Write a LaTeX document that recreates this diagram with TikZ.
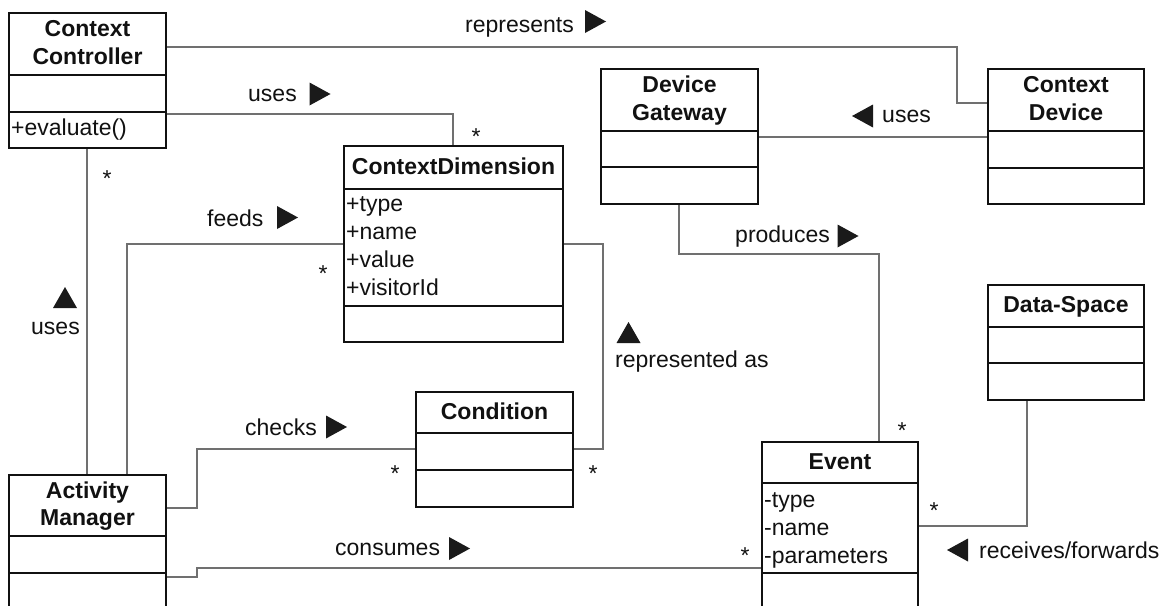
\documentclass[tikz,border=0pt]{standalone}
\usepackage{fontspec}
\setmainfont{Liberation Sans}
\usetikzlibrary{backgrounds}
\definecolor{ink}{RGB}{17,17,17}
\definecolor{wire}{RGB}{112,112,112}
\definecolor{tricol}{RGB}{26,26,26}

% class box: outer frame from (left,top) to (right,bottom)
\newcommand\umlbox[5]{%
  \node[cls, minimum width={#4-#2}, minimum height={#5-#3}] (#1) at ({(#2+#4)/2},{(#3+#5)/2}) {};}
% horizontal compartment separator inside a class box
\newcommand\umlsep[2]{\draw[sepline] (#1.west |- 0,#2) -- (#1.east |- 0,#2);}

\begin{document}
\begin{tikzpicture}[x=1pt, y=-1pt,
  every node/.style={font=\fontsize{23}{28}\selectfont, text=ink},
  cls/.style={draw=ink, line width=1.8pt, inner sep=0pt, outer sep=0pt},
  sepline/.style={draw=ink, line width=1.8pt},
  assoc/.style={draw=wire, line width=1.1pt},
  ttl/.style={font=\fontsize{23}{28}\selectfont\bfseries, anchor=base, inner sep=0pt},
  attr/.style={anchor=base west, inner sep=0pt},
  lbl/.style={anchor=base west, inner sep=0pt},
  mult/.style={anchor=base, inner sep=0pt},
  rtri/.pic={\fill[tricol] (-10.5,-11.5) -- (10.5,0) -- (-10.5,11.5) -- cycle;},
  ltri/.pic={\fill[tricol] (10.5,-11.5) -- (-10.5,0) -- (10.5,11.5) -- cycle;},
  utri/.pic={\fill[tricol] (-12,10.5) -- (0,-10.5) -- (12,10.5) -- cycle;},
]
\clip (0,0) rectangle (1166,605);

% ---------- class boxes ----------
\umlbox{cc}{9}{13}{166}{148}
\umlsep{cc}{75}\umlsep{cc}{112}
\node[ttl] (cc-t1) at (87.5,36.7) {Context};
\node[ttl] (cc-t2) at (87.5,64) {Controller};
\node[attr] (cc-op) at (11,135) {+evaluate()};

\umlbox{dim}{344}{146}{563}{341.7}
\umlsep{dim}{189}\umlsep{dim}{305.7}
\node[ttl] (dim-t) at (453.5,174.3) {ContextDimension};
\foreach \a [count=\i] in {+type,+name,+value,+visitorId}
  \node[attr] (dim-a\i) at (346,{183.7+28*\i}) {\a};

\umlbox{dg}{601}{69}{758}{204}
\umlsep{dg}{131}\umlsep{dg}{167}
\node[ttl] (dg-t1) at (679.5,92.7) {Device};
\node[ttl] (dg-t2) at (679.5,120) {Gateway};

\umlbox{dev}{988}{69}{1144}{204}
\umlsep{dev}{131}\umlsep{dev}{168}
\node[ttl] (dev-t1) at (1066,92.7) {Context};
\node[ttl] (dev-t2) at (1066,120) {Device};

\umlbox{ds}{988}{285}{1144}{400}
\umlsep{ds}{327}\umlsep{ds}{363}
\node[ttl] (ds-t) at (1066,312.3) {Data-Space};

\umlbox{cond}{416}{392}{573}{507}
\umlsep{cond}{433}\umlsep{cond}{470}
\node[ttl] (cond-t) at (494.5,419.3) {Condition};

\umlbox{ev}{762}{442}{918}{625}
\umlsep{ev}{483}\umlsep{ev}{573}
\node[ttl] (ev-t) at (840,469.3) {Event};
\foreach \a [count=\i] in {-type,-name,-parameters}
  \node[attr] (ev-a\i) at (764,{479+28*\i}) {\a};

\umlbox{am}{9}{475}{166}{625}
\umlsep{am}{536}\umlsep{am}{573}
\node[ttl] (am-t1) at (87.5,498.5) {Activity};
\node[ttl] (am-t2) at (87.5,525.8) {Manager};

% ---------- associations, behind the boxes ----------
\begin{scope}[on background layer]
\fill[white] (0,0) rectangle (1166,605);
\draw[assoc] (cc.east |- 0,47) -| (957,103) -- (dev.west |- 0,103);
\draw[assoc] (cc.east |- 0,114) -| (dim.north -| 453,0);
\draw[assoc] (dg.east |- 0,137) -- (dev.west |- 0,137);
\draw[assoc] (dg.south -| 679,0) |- (879,254) -- (ev.north -| 879,0);
\draw[assoc] (cc.south -| 87,0) -- (am.north -| 87,0);
\draw[assoc] (am.north -| 127,0) |- (dim.west |- 0,244);
\draw[assoc] (dim.east |- 0,244) -| (603,449) -- (cond.east |- 0,449);
\draw[assoc] (am.east |- 0,508) -| (197,449) -- (cond.west |- 0,449);
\draw[assoc] (am.east |- 0,577) -| (197,568) -- (ev.west |- 0,568);
\draw[assoc] (ds.south -| 1027,0) |- (ev.east |- 0,526);
\end{scope}

% ---------- association names and reading directions ----------
\node[lbl] (l-repr) at (465,32) {represents};
\pic at (595.5,21.5) {rtri};
\node[lbl] (l-uses1) at (248,101.7) {uses};
\pic at (320,94) {rtri};
\node[lbl] (l-uses2) at (882,122.7) {uses};
\pic at (862.5,116) {ltri};
\node[lbl] (l-feeds) at (207,226) {feeds};
\pic at (287.5,217.5) {rtri};
\node[lbl] (l-uses3) at (31,334.3) {uses};
\pic at (65,297.5) {utri};
\node[lbl] (l-checks) at (245,435) {checks};
\pic at (336.5,427) {rtri};
\node[lbl] (l-cons) at (335,555) {consumes};
\pic at (459.5,548.5) {rtri};
\node[lbl] (l-repas) at (615,367.7) {represented as};
\pic at (628.5,332.5) {utri};
\node[lbl] (l-prod) at (735,242.3) {produces};
\pic at (848,236) {rtri};
\node[lbl] (l-recv) at (979,558.3) {receives/forwards};
\pic at (957.5,550) {ltri};

% ---------- multiplicities ----------
\node[mult] (m1) at (476,144) {*};
\node[mult] (m2) at (107,186) {*};
\node[mult] (m3) at (323,281) {*};
\node[mult] (m4) at (395,481) {*};
\node[mult] (m5) at (593,481) {*};
\node[mult] (m6) at (902,438) {*};
\node[mult] (m7) at (934,518) {*};
\node[mult] (m8) at (745,563) {*};
\end{tikzpicture}
\end{document}
